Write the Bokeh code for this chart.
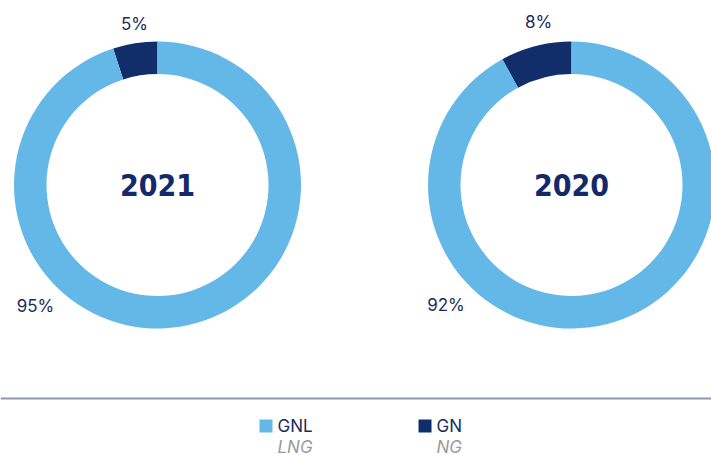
import math
from bokeh.plotting import figure
from bokeh.models import Range1d, ColumnDataSource
from bokeh.core.properties import value
from bokeh.embed import file_html
from bokeh.resources import INLINE

# ---- data ----
years = ["2021", "2020"]
gnl_share = [95, 92]   # GNL / LNG
gn_share = [5, 8]      # GN / NG
categories = ["GNL", "GN"]
categories_en = ["LNG", "NG"]
colors = ["#63b8e8", "#112d6a"]

# ---- layout (page pixel coords) ----
W, H = 711, 455
def Y(y):
    return H - y

p = figure(width=W, height=H, output_backend="svg", toolbar_location=None,
           x_range=Range1d(0, W), y_range=Range1d(0, H),
           x_axis_type=None, y_axis_type=None, min_border=0)
p.outline_line_color = None
p.grid.visible = False
p.background_fill_color = "white"
p.border_fill_color = "white"

centers_x = [157, 571]
cy = 184.5
r_out, r_in = 143.5, 111

txt = "#1a2c5e"
small_font = value("Inter")
for i, yr in enumerate(years):
    cx = centers_x[i]
    shares = [gn_share[i], gnl_share[i]]
    cols = [colors[1], colors[0]]
    starts, ends = [], []
    a = math.pi / 2
    for s in shares:
        starts.append(a)
        a = a + 2 * math.pi * s / 100.0
        ends.append(a)
    src = ColumnDataSource(dict(x=[cx] * 2, y=[Y(cy)] * 2, start=starts, end=ends, color=cols))
    p.annular_wedge(x="x", y="y", inner_radius=r_in, outer_radius=r_out,
                    inner_radius_units="screen", outer_radius_units="screen",
                    start_angle="start", end_angle="end", fill_color="color",
                    line_color=None, source=src)
    # year label
    p.text(x=[cx], y=[Y(cy)], text=[yr], text_align="center", text_baseline="middle",
           text_font=value("DejaVu Sans Condensed"), text_font_style="bold",
           text_font_size="30px", text_color="#13296a")
    # percent labels
    small_off = [(-23, -161.5), (-33, -163.5)][i]
    big_off = [(-122, 120.5), (-125.5, 119.5)][i]
    p.text(x=[cx + small_off[0]], y=[Y(cy + small_off[1])], text=[f"{gn_share[i]}%"],
           text_align="center", text_baseline="middle", text_font=small_font,
           text_font_size="17px", text_color=txt)
    p.text(x=[cx + big_off[0]], y=[Y(cy + big_off[1])], text=[f"{gnl_share[i]}%"],
           text_align="center", text_baseline="middle", text_font=small_font,
           text_font_size="17px", text_color=txt)

# separator line
p.segment(x0=[0], y0=[Y(398)], x1=[W], y1=[Y(398)], line_color="#8b97b5", line_width=2)

# legend
leg_x = [265.5, 424.5]
for j, c in enumerate(categories):
    p.scatter(x=[leg_x[j]], y=[Y(425.5)], marker="square", size=13, fill_color=colors[j], line_color=None)
    p.text(x=[leg_x[j] + 11.5], y=[Y(425.5)], text=[c], text_align="left", text_baseline="middle",
           text_font=small_font, text_font_size="17px", text_color=txt)
    p.text(x=[leg_x[j] + 11.5], y=[Y(446)], text=[categories_en[j]], text_align="left",
           text_baseline="middle", text_font=small_font, text_font_style="italic",
           text_font_size="17px", text_color="#9a9a9a")

open("out.html", "w").write(file_html(p, INLINE))
